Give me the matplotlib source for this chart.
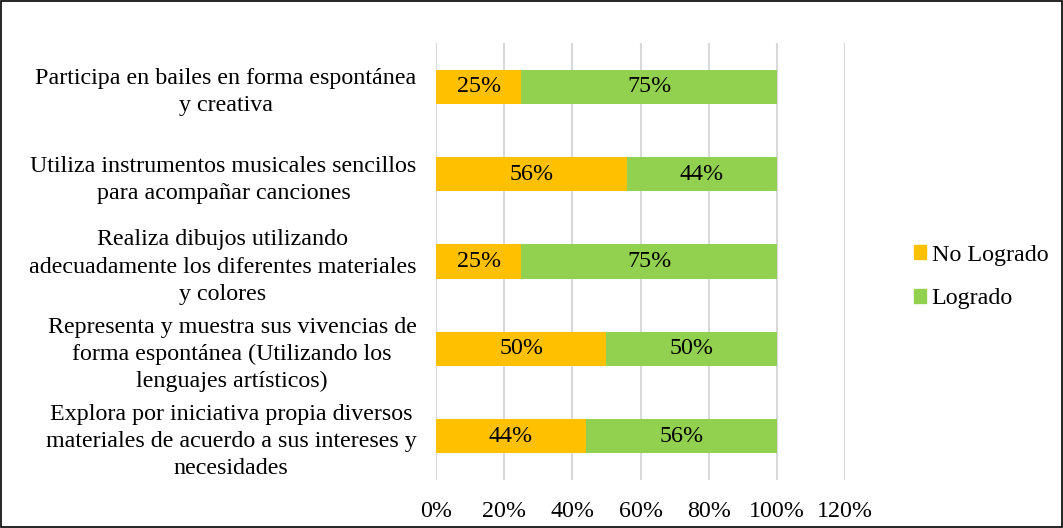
#Program to display a stacked horizontal bar chart of achievement levels.
import matplotlib.pyplot as plt
from matplotlib.patches import Patch

#Categories (top to bottom) and the share for each series.
categories = [
    "Participa en bailes en forma espontánea\ny creativa",
    "Utiliza instrumentos musicales sencillos\npara acompañar canciones",
    "Realiza dibujos utilizando\nadecuadamente los diferentes materiales\ny colores",
    "Representa y muestra sus vivencias de\nforma espontánea (Utilizando los\nlenguajes artísticos)",
    "Explora por iniciativa propia diversos\nmateriales de acuerdo a sus intereses y\nnecesidades",
]
no_logrado = [0.25, 0.56, 0.25, 0.50, 0.44]
logrado = [0.75, 0.44, 0.75, 0.50, 0.56]
series_names = ["No Logrado", "Logrado"]
x_ticks = [0, 0.2, 0.4, 0.6, 0.8, 1.0, 1.2]
x_tick_labels = ["0%", "20%", "40%", "60%", "80%", "100%", "120%"]


def main():
    """Mainline logic for creating the chart."""
    plt.rcParams['font.family'] = ['Liberation Serif', 'DejaVu Serif']
    fs = 17.3
    fig = plt.figure(figsize=(10.63, 5.28), dpi=100)
    ax = fig.add_axes([436 / 1063, 1 - 480 / 528, 409 / 1063, 437 / 528])

    orange = "#FFC000"
    green = "#92D050"
    pos = list(range(len(categories)))

    #Stacked bars.
    ax.barh(pos, no_logrado, height=0.39, color=orange, zorder=3)
    ax.barh(pos, logrado, left=no_logrado, height=0.39, color=green, zorder=3)

    #Value labels centred in each segment.
    for i in pos:
        ax.text(no_logrado[i] / 2, i, f"{no_logrado[i]:.0%}", ha='center',
                va='center', fontsize=fs, zorder=4)
        ax.text(no_logrado[i] + logrado[i] / 2, i, f"{logrado[i]:.0%}",
                ha='center', va='center', fontsize=fs, zorder=4)

    ax.set_xlim(0, 1.2)
    ax.set_ylim(len(categories) - 0.5, -0.5)
    ax.set_xticks(x_ticks)
    ax.set_xticklabels(x_tick_labels, fontsize=fs)
    ax.set_yticks(pos)
    ax.set_yticklabels(categories, fontsize=fs, multialignment='center',
                       linespacing=1.38)

    #Grid and spines.
    ax.grid(axis='x', color='#D9D9D9', linewidth=1.5, zorder=0)
    for side in ax.spines.values():
        side.set_visible(False)
    ax.tick_params(axis='both', length=0)
    ax.tick_params(axis='x', pad=15)
    ax.tick_params(axis='y', pad=14)

    #Legend on the right.
    handles = [Patch(color=orange), Patch(color=green)]
    fig.legend(handles, series_names, loc='center left',
               bbox_to_anchor=(892 / 1063, 1 - 277 / 528), frameon=False,
               fontsize=fs, handlelength=0.5, handleheight=0.5,
               handletextpad=0.25, labelspacing=0.95)

    #Border around the figure.
    fig.patches.append(plt.Rectangle((0.001, 0.001), 0.998, 0.997,
                                     transform=fig.transFigure, fill=False,
                                     edgecolor='black', linewidth=1.2))

    fig.savefig("out.png", dpi=100)


if __name__ == '__main__':
    main()
